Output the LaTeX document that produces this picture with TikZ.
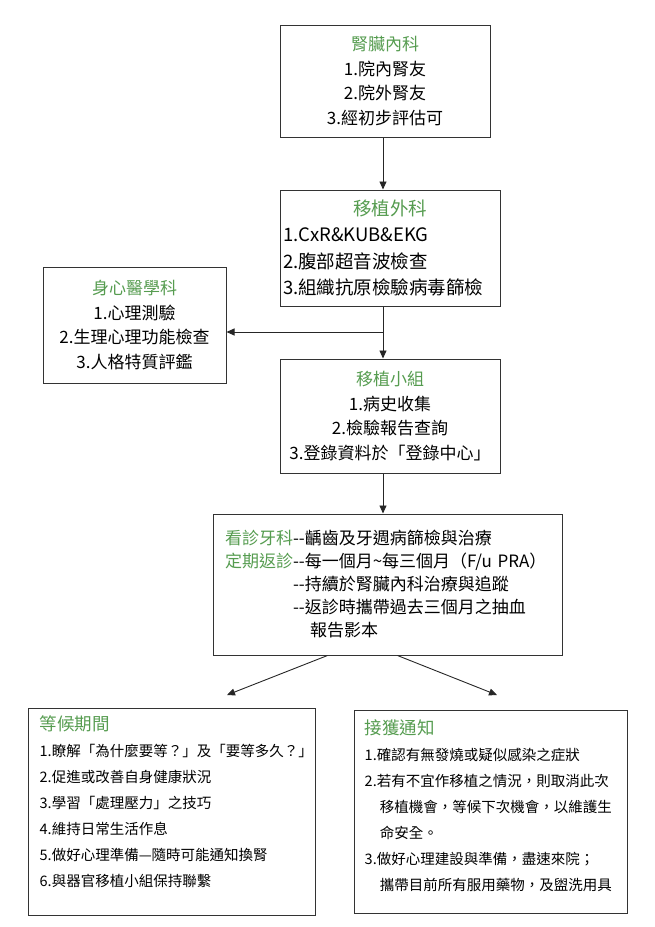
\documentclass[tikz,border=0pt]{standalone}
\usepackage{fontspec}
\setmainfont{Noto Sans CJK TC}
\usepackage{tikz}
\usetikzlibrary{arrows.meta}
\definecolor{headgreen}{RGB}{86,156,80}
\newcommand{\head}[1]{\textcolor{headgreen}{#1}}

\begin{document}
\begin{tikzpicture}[
    x=1pt, y=-1pt,
    font=\fontsize{17}{24.5}\selectfont,
    box/.style={draw=black!80, line width=1pt, inner sep=0pt, align=center},
    list/.style={inner sep=0pt, align=left, font=\fontsize{14.5}{26}\selectfont},
    arr/.style={draw=black!85, line width=0.9pt, -{Triangle[length=8pt,width=7pt]}}
]
    \useasboundingbox (0,0) rectangle (655,927);
    \coordinate (trunk) at (383,0);

    \node[box, minimum width=210, minimum height=112] (nephro) at (385,81)
        {\head{腎臟內科}\\1.院內腎友\\2.院外腎友\\3.經初步評估可};
    \node[box, minimum width=220, minimum height=116, align=left, text width=214,
          inner xsep=3pt, font=\fontsize{18.5}{26.5}\selectfont] (surg) at (390,248)
        {\makebox[214pt]{\head{移植外科}}\\1.CxR\&KUB\&EKG\\2.腹部超音波檢查\\3.組織抗原檢驗病毒篩檢};
    \node[box, minimum width=183, minimum height=116] (psych) at (134.5,325)
        {\head{身心醫學科}\\1.心理測驗\\2.生理心理功能檢查\\3.人格特質評鑑};
    \node[box, minimum width=220, minimum height=114] (team) at (390,416)
        {\head{移植小組}\\1.病史收集\\2.檢驗報告查詢\\3.登錄資料於「登錄中心」};
    \node[box, minimum width=349, minimum height=141, align=left, text width=325,
          inner xsep=12pt, font=\fontsize{17}{23}\selectfont] (clinic) at (387.5,584.5)
        {\head{看診牙科}-{}-齲齒及牙週病篩檢與治療\\
         \head{定期返診}-{}-每一個月\textasciitilde 每三個月（F/u PRA）\\
         \hspace*{4em}-{}-持續於腎臟內科治療與追蹤\\
         \hspace*{4em}-{}-返診時攜帶過去三個月之抽血\\
         \hspace*{5em}報告影本};

    % waiting list and call for transplant
    \node[box, minimum width=287, minimum height=207] (wait) at (171.5,811.5) {};
    \node[list, anchor=north west] (waitText) at ([shift={(12,8)}]wait.north west)
        {{\fontsize{17.5}{26}\selectfont\head{等候期間}}\\
         1.瞭解「為什麼要等？」及「要等多久？」\\
         2.促進或改善自身健康狀況\\
         3.學習「處理壓力」之技巧\\
         4.維持日常生活作息\\
         5.做好心理準備—隨時可能通知換腎\\
         6.與器官移植小組保持聯繫};
    \node[box, minimum width=273, minimum height=203] (notice) at (490.5,811.5) {};
    \node[list, anchor=north west] (noticeText) at ([shift={(11,10)}]notice.north west)
        {{\fontsize{17.5}{26}\selectfont\head{接獲通知}}\\
         1.確認有無發燒或疑似感染之症狀\\
         2.若有不宜作移植之情況，則取消此次\\
         \hspace*{1.05em}移植機會，等候下次機會，以維護生\\
         \hspace*{1.05em}命安全。\\
         3.做好心理建設與準備，盡速來院；\\
         \hspace*{1.05em}攜帶目前所有服用藥物，及盥洗用具};

    \coordinate (split) at (383,332);
    \coordinate (toWait) at (227,695);
    \coordinate (toNotice) at (497,695);
    \draw[arr] (nephro.south -| trunk) -- (surg.north -| trunk);
    \draw[arr] (surg.south -| trunk) -- (team.north -| trunk);
    \draw[arr] (split) -- (split -| psych.east);
    \draw[arr] (team.south -| trunk) -- (clinic.north -| trunk);
    \draw[arr] ([xshift=-60pt]clinic.south) -- (toWait);
    \draw[arr] ([xshift=10pt]clinic.south) -- (toNotice);
\end{tikzpicture}
\end{document}
